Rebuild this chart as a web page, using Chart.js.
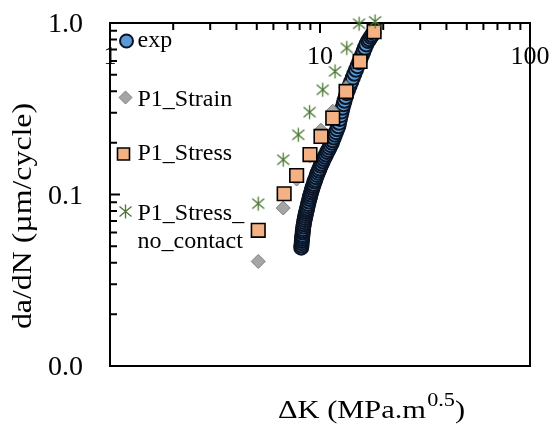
<!DOCTYPE html>
<html>
<head>
<meta charset="utf-8">
<title>da/dN vs ΔK</title>
<script src="https://cdn.jsdelivr.net/npm/chart.js@4.4.1/dist/chart.umd.min.js"></script>
<style>
  html, body { margin: 0; padding: 0; background: #fff; }
  #wrap { width: 552px; height: 428px; }
</style>
</head>
<body>
<div id="wrap"><canvas id="crackChart" width="552" height="428"></canvas></div>
<script>
/* ---- data: ΔK (MPa.m^0.5) vs da/dN (µm/cycle) ---- */
const seriesNames = ['exp', 'P1_Strain', 'P1_Stress', 'P1_Stress_no_contact'];
const legendLines = [['exp'], ['P1_Strain'], ['P1_Stress'], ['P1_Stress_', 'no_contact']];

const expDK = [8.14, 8.16, 8.18, 8.19, 8.21, 8.23, 8.25, 8.27, 8.29, 8.31, 8.34, 8.37, 8.4,
  8.44, 8.48, 8.52, 8.56, 8.6, 8.64, 8.68, 8.73, 8.78, 8.84, 8.9, 8.96, 9.02, 9.08, 9.14, 9.2,
  9.27, 9.34, 9.42, 9.5, 9.58, 9.67, 9.76, 9.86, 9.96, 10.07, 10.18, 10.3, 10.42, 10.55, 10.68,
  10.82, 10.96, 11.1, 11.25, 11.4, 11.5, 11.64, 11.78, 11.92, 12.07, 12.23, 12.33, 12.45,
  12.57, 12.69, 12.81, 12.95, 13.09, 13.24, 13.4, 13.62, 13.85, 14.09, 14.33, 14.58, 14.84,
  15.08, 15.34, 15.6, 15.85, 16.1, 16.35, 16.61, 16.96, 17.19, 17.47, 17.69, 17.96];
const expRate = [0.049, 0.0505, 0.052, 0.0535, 0.055, 0.0565, 0.058, 0.06, 0.0615, 0.063,
  0.065, 0.067, 0.069, 0.071, 0.073, 0.075, 0.077, 0.079, 0.081, 0.083, 0.0855, 0.088, 0.091,
  0.094, 0.097, 0.1, 0.103, 0.106, 0.109, 0.112, 0.115, 0.119, 0.122, 0.126, 0.13, 0.134,
  0.138, 0.142, 0.147, 0.151, 0.156, 0.161, 0.166, 0.171, 0.177, 0.182, 0.188, 0.194, 0.2,
  0.207, 0.215, 0.223, 0.231, 0.24, 0.25, 0.262, 0.276, 0.29, 0.305, 0.32, 0.336, 0.352,
  0.37, 0.39, 0.41, 0.432, 0.455, 0.48, 0.506, 0.533, 0.56, 0.59, 0.62, 0.65, 0.682, 0.715,
  0.75, 0.785, 0.805, 0.83, 0.85, 0.875];

const strainDK = [5.08, 6.68, 7.74, 8.96, 10.11, 11.5, 13.31, 15.52, 18.1];
const strainRate = [0.0407, 0.0834, 0.123, 0.168, 0.237, 0.306, 0.42, 0.6, 0.88];

const stressDK = [5.08, 6.75, 7.74, 8.96, 10.11, 11.5, 13.31, 15.52, 18.1];
const stressRate = [0.0618, 0.101, 0.129, 0.171, 0.218, 0.279, 0.399, 0.597, 0.89];

const noContactDK = [5.08, 6.68, 7.88, 8.92, 10.3, 11.79, 13.41, 15.35, 18.3];
const noContactRate = [0.0884, 0.1595, 0.223, 0.302, 0.408, 0.522, 0.715, 0.99, 1.022];

const xTickValues = [1, 10, 100];
const xTickLabels = ['1', '10', '100'];
const yTickValues = [1, 0.1, 0.01];
const yTickLabels = ['1.0', '0.1', '0.0'];

const pts = (xs, ys) => xs.map((x, i) => ({ x, y: ys[i] }));

/* asterisk marker (x plus a vertical bar) */
const asterisk = document.createElement('canvas');
asterisk.width = 17; asterisk.height = 17;
(function () {
  const c = asterisk.getContext('2d');
  c.strokeStyle = '#4a7631';
  c.lineWidth = 1.3;
  c.beginPath();
  c.moveTo(8.5, 1.5); c.lineTo(8.5, 15.5);
  c.moveTo(2.5, 3.5); c.lineTo(14.5, 13.5);
  c.moveTo(14.5, 3.5); c.lineTo(2.5, 13.5);
  c.stroke();
})();

const SERIF = '"Liberation Serif", "Times New Roman", serif';

/* frame, inward ticks, tick labels, titles, legend */
const axesDecor = {
  id: 'axesDecor',
  beforeDatasetsDraw(chart) {
    const { ctx, chartArea: a, scales: { x, y } } = chart;
    ctx.save();
    ctx.strokeStyle = '#000';
    ctx.lineWidth = 2;
    ctx.strokeRect(a.left, a.top, a.right - a.left, a.bottom - a.top);
    ctx.beginPath();
    for (let dec = 1; dec < 100; dec *= 10) {
      for (let m = 1; m <= 10; m++) {
        const px = x.getPixelForValue(dec * m);
        const len = (m === 1 || m === 10) ? 10 : 7;
        ctx.moveTo(px, a.top); ctx.lineTo(px, a.top + len);
      }
    }
    for (let dec = 0.01; dec < 1; dec *= 10) {
      for (let m = 1; m <= 10; m++) {
        const py = y.getPixelForValue(dec * m);
        const len = (m === 1 || m === 10) ? 10 : 7;
        ctx.moveTo(a.left, py); ctx.lineTo(a.left + len, py);
      }
    }
    ctx.stroke();
    ctx.restore();
  },
  afterDraw(chart) {
    const { ctx, scales: { x, y } } = chart;
    ctx.save();
    ctx.fillStyle = '#000';

    // tick labels
    ctx.font = `26px ${SERIF}`;
    ctx.textAlign = 'center';
    ctx.textBaseline = 'alphabetic';
    xTickValues.forEach((v, i) => ctx.fillText(xTickLabels[i], x.getPixelForValue(v), 64));
    ctx.font = `28px ${SERIF}`;
    ctx.textAlign = 'right';
    yTickValues.forEach((v, i) => ctx.fillText(yTickLabels[i], 83, y.getPixelForValue(v) + 9));

    // y title
    ctx.save();
    ctx.translate(31, 216);
    ctx.rotate(-Math.PI / 2);
    ctx.scale(1.18, 1);
    ctx.font = `27px ${SERIF}`;
    ctx.textAlign = 'center';
    ctx.fillText('da/dN (µm/cycle)', 0, 0);
    ctx.restore();

    // x title with superscript
    ctx.save();
    ctx.translate(278, 418);
    ctx.scale(1.17, 1);
    ctx.textAlign = 'left';
    ctx.font = `26px ${SERIF}`;
    const main = 'ΔK (MPa.m';
    ctx.fillText(main, 0, 0);
    let cx = ctx.measureText(main).width;
    ctx.font = `19px ${SERIF}`;
    ctx.fillText('0.5', cx + 1, -12);
    cx += ctx.measureText('0.5').width + 1;
    ctx.font = `26px ${SERIF}`;
    ctx.fillText(')', cx, 0);
    ctx.restore();

    // legend inside the plot
    const ds = chart.data.datasets;
    const rows = [
      { mx: 126.5, my: 41, base: 47 },
      { mx: 125.5, my: 97.5, base: 106 },
      { mx: 123.5, my: 154, base: 160 },
      { mx: 125.5, my: 211.5, base: 219.5 }
    ];
    ctx.font = `24px ${SERIF}`;
    ctx.textAlign = 'left';
    rows.forEach((r, i) => {
      const d = ds[i];
      ctx.fillStyle = d.backgroundColor;
      ctx.strokeStyle = d.borderColor;
      ctx.lineWidth = d.borderWidth;
      ctx.beginPath();
      if (d.pointStyle === 'circle') {
        ctx.arc(r.mx, r.my, 6.5, 0, Math.PI * 2);
        ctx.fill(); ctx.stroke();
      } else if (d.pointStyle === 'rectRot') {
        ctx.moveTo(r.mx, r.my - 6.5); ctx.lineTo(r.mx + 6.5, r.my);
        ctx.lineTo(r.mx, r.my + 6.5); ctx.lineTo(r.mx - 6.5, r.my);
        ctx.closePath(); ctx.fill(); ctx.stroke();
      } else if (d.pointStyle === 'rect') {
        ctx.rect(r.mx - 6, r.my - 6, 12, 12);
        ctx.fill(); ctx.stroke();
      } else {
        ctx.drawImage(d.pointStyle, r.mx - 8.5, r.my - 8.5);
      }
      ctx.fillStyle = '#000';
      legendLines[i].forEach((t, k) => ctx.fillText(t, 137.5, r.base + k * 28));
    });
    ctx.restore();
  }
};

new Chart(document.getElementById('crackChart'), {
  type: 'scatter',
  data: {
    datasets: [
      {
        label: seriesNames[0], data: pts(expDK, expRate), order: 4,
        pointStyle: 'circle', pointRadius: 7,
        backgroundColor: '#5b9bd5', borderColor: '#0b1424', borderWidth: 2
      },
      {
        label: seriesNames[1], data: pts(strainDK, strainRate), order: 3,
        pointStyle: 'rectRot', pointRadius: 7,
        backgroundColor: '#a5a5a5', borderColor: '#7f7f7f', borderWidth: 1
      },
      {
        label: seriesNames[2], data: pts(stressDK, stressRate), order: 2,
        pointStyle: 'rect', pointRadius: 9.6,
        backgroundColor: '#f4b183', borderColor: '#000', borderWidth: 1.6
      },
      {
        label: seriesNames[3], data: pts(noContactDK, noContactRate), order: 1,
        pointStyle: asterisk, pointRadius: 8,
        backgroundColor: '#4a7631', borderColor: '#4a7631', borderWidth: 1
      }
    ].map((d) => Object.assign(d, { showLine: false, clip: false, pointHoverRadius: d.pointRadius }))
  },
  options: {
    responsive: false,
    animation: false,
    devicePixelRatio: 1,
    layout: { padding: { left: 110, top: 23, right: 22, bottom: 62 } },
    plugins: { legend: { display: false }, tooltip: { enabled: false } },
    scales: {
      x: { type: 'logarithmic', min: 1, max: 100, display: false },
      y: { type: 'logarithmic', min: 0.01, max: 1, display: false }
    }
  },
  plugins: [axesDecor]
});
</script>
</body>
</html>
